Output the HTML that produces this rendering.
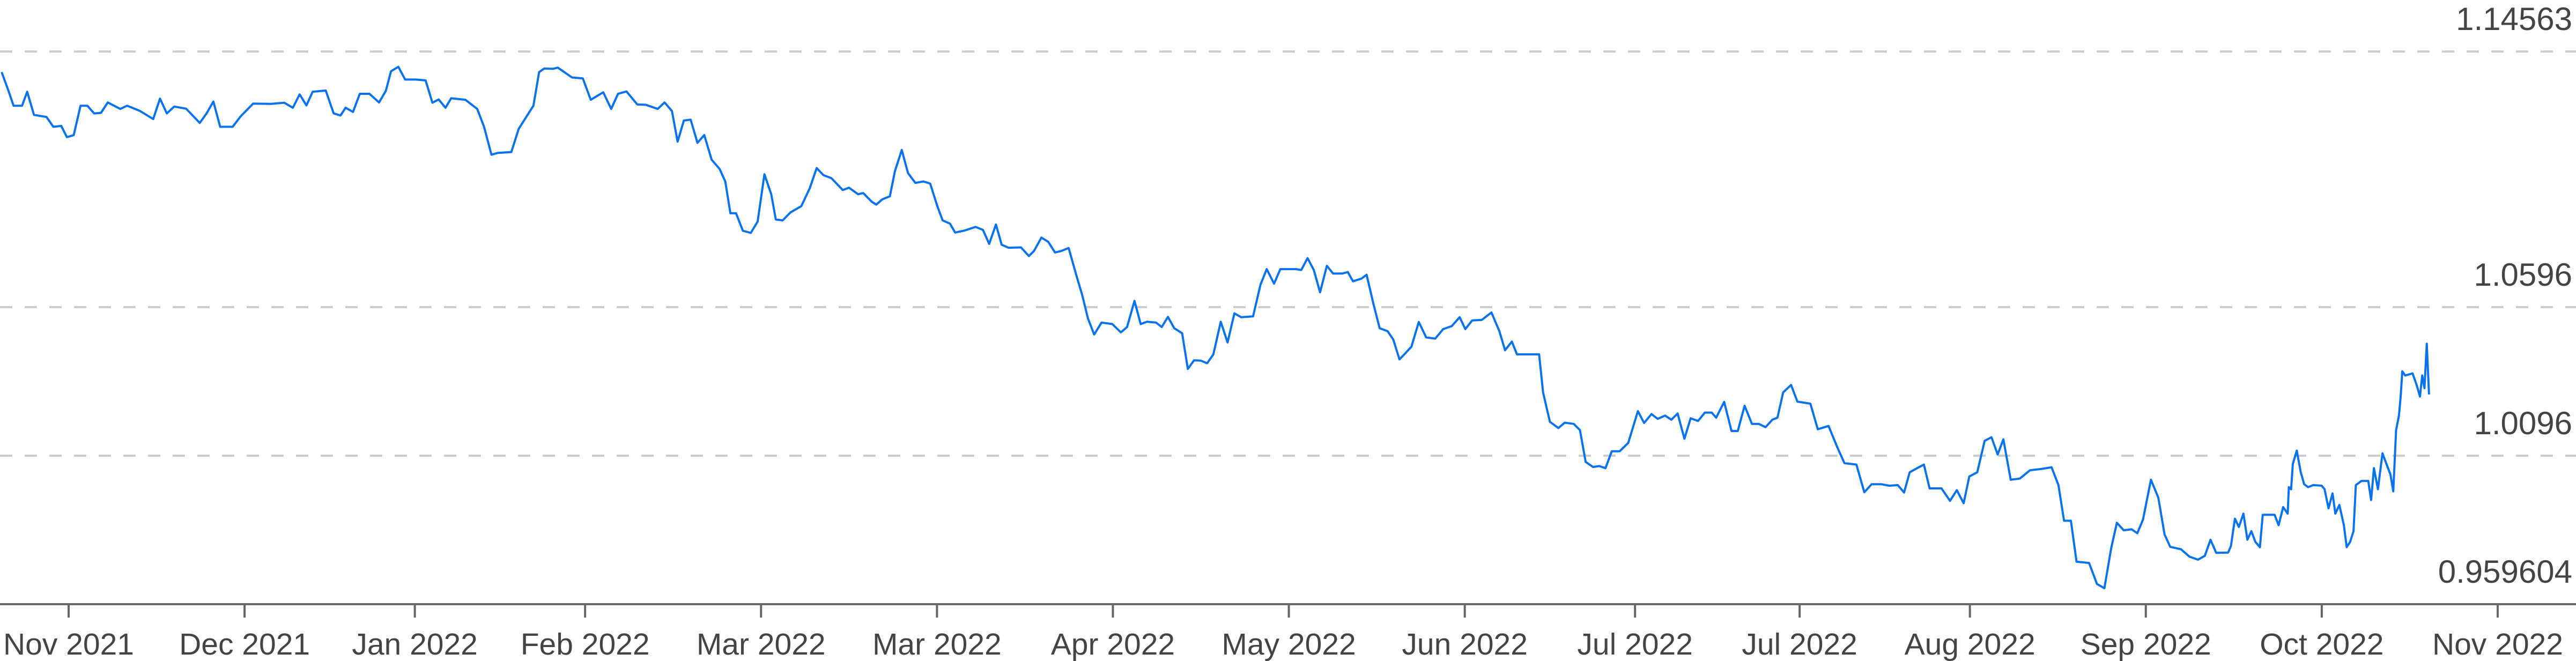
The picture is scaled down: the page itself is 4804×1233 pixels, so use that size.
<!DOCTYPE html>
<html><head><meta charset="utf-8">
<style>
html,body{margin:0;padding:0;background:#fff;}
svg{display:block;}
text{font-family:"Liberation Sans",sans-serif;fill:#444;}
</style></head>
<body>
<svg id="chart" width="4804" height="1233" viewBox="0 0 4804 1233" xmlns="http://www.w3.org/2000/svg">
<g id="grid"></g>
<g id="ylabels"></g>
<g id="xaxis"></g>
<g id="series"></g>
</svg>
<script>
const yTickValues = [1.14563, 1.0596, 1.0096, 0.959604];
const yTickLabels = ["1.14563", "1.0596", "1.0096", "0.959604"];
const xTickDays = [0,31,61,91,122,153,184,215,246,276,305,335,366,397,428];
const xTickLabels = ["Nov 2021","Dec 2021","Jan 2022","Feb 2022","Mar 2022","Mar 2022","Apr 2022","May 2022","Jun 2022","Jul 2022","Jul 2022","Aug 2022","Sep 2022","Oct 2022","Nov 2022"];
const seriesDays = [-11.8,-10.6,-9.7,-8.2,-7.3,-6.1,-3.9,-2.7,-1.3,-0.3,0.9,2.1,3.3,4.5,5.7,6.9,9.1,10.3,12.5,14.9,16.1,17.3,18.6,20.7,23.1,24.3,25.5,26.7,28.9,30.3,32.5,35.6,38.0,39.5,40.7,41.9,43.0,45.3,46.7,47.9,48.8,50.1,51.3,53.0,54.7,55.9,56.8,58.1,59.3,61.2,62.9,64.1,65.2,66.4,67.4,69.9,72.0,73.2,74.5,75.6,78.0,79.3,80.7,81.9,82.9,83.8,85.3,86.2,88.7,90.6,92.0,94.2,95.6,96.8,98.3,100.2,101.7,103.8,105.0,106.3,107.3,108.4,109.6,110.8,112.0,113.3,114.7,115.7,116.6,117.6,118.8,120.2,121.4,122.6,123.8,124.6,125.8,127.2,129.1,130.6,131.8,133.0,134.4,136.4,137.5,139.1,
140.0,141.5,142.3,143.4,144.7,145.6,146.8,147.9,149.2,150.6,151.8,153.1,154.0,155.3,156.2,157.9,159.8,161.1,162.2,163.4,164.4,165.6,167.8,169.2,170.1,171.4,172.6,173.8,174.9,176.2,177.5,178.6,179.6,180.7,182.0,183.9,185.4,186.5,187.8,188.9,190.0,191.6,192.6,193.7,194.8,196.2,197.2,198.3,199.5,200.6,201.7,203.0,204.2,205.4,206.6,208.7,210.0,211.1,212.4,213.5,216.2,217.2,218.3,219.4,220.5,221.7,222.8,224.4,225.4,226.3,227.8,228.7,229.9,231.0,232.4,233.4,234.5,235.5,236.6,237.9,239.2,240.8,242.2,243.7,245.1,246.1,247.3,249.0,250.7,252.1,253.1,254.3,255.2,257.5,259.1,259.8,261.0,262.5,263.6,265.2,266.3,267.3,268.6,269.7,270.8,271.9,273.3,274.8,276.5,277.6,278.9,280.0,281.3,282.4,283.5,284.7,285.8,287.1,288.3,289.5,
290.3,291.7,293.0,294.1,295.3,296.6,297.8,299.0,300.2,301.1,302.1,303.5,304.6,306.9,308.2,310.1,311.6,312.9,315.0,316.4,317.7,319.4,320.8,322.3,323.4,324.4,325.7,326.9,327.9,330.0,331.5,332.7,333.9,334.9,336.3,337.6,338.8,339.9,340.9,342.2,343.8,345.6,347.5,349.4,350.6,351.6,352.8,353.8,356.0,357.4,358.7,359.9,360.9,362.1,363.5,364.5,365.5,366.9,368.2,369.3,370.3,372.2,373.7,375.2,376.4,377.4,378.4,380.5,381.0,381.7,382.4,383.2,383.9,384.6,385.3,386.1,386.6,388.7,389.4,390.2,391.0,391.2,391.6,391.9,392.6,393.3,393.9,394.6,395.5,397.0,397.5,398.2,398.9,399.4,400.1,400.9,401.4,402.0,402.6,403.0,404.0,405.2,405.7,406.2,406.9,407.7,408.4,409.1,409.6,410.1,410.6,410.9,411.2,411.7,413.0,413.7,414.3,414.7,415.1,415.5,415.9];
const seriesValues = [1.1387,1.1324,1.1274,1.1274,1.1321,1.1243,1.1236,1.1203,1.1206,1.1168,1.1175,1.1274,1.1274,1.1248,1.1250,1.1285,1.1263,1.1274,1.1257,1.1229,1.1298,1.1248,1.1271,1.1264,1.1216,1.1248,1.1288,1.1203,1.1203,1.1238,1.1281,1.1280,1.1284,1.1267,1.1312,1.1275,1.1321,1.1325,1.1248,1.1241,1.1267,1.1253,1.1314,1.1314,1.1285,1.1324,1.1390,1.1405,1.1362,1.1362,1.1359,1.1284,1.1295,1.1267,1.1299,1.1294,1.1263,1.1203,1.1109,1.1115,1.1118,1.1196,1.1238,1.1274,1.1387,1.1399,1.1398,1.1402,1.1369,1.1366,1.1294,1.1319,1.1263,1.1314,1.1322,1.1278,1.1277,1.1263,1.1285,1.1256,1.1153,1.1224,1.1227,1.1149,1.1175,1.1092,1.1061,1.1019,1.0912,1.0912,1.0853,1.0846,1.0884,1.1043,1.0976,1.0891,1.0888,1.0915,1.0936,1.0997,1.1064,1.1040,1.1030,1.0990,1.0998,1.0976,
1.0980,1.0951,1.0941,1.0959,1.0969,1.1054,1.1125,1.1047,1.1014,1.1019,1.1012,1.0934,1.0888,1.0877,1.0847,1.0854,1.0866,1.0856,1.0809,1.0874,1.0806,1.0796,1.0797,1.0768,1.0785,1.0830,1.0816,1.0780,1.0785,1.0795,1.0707,1.0636,1.0558,1.0504,1.0544,1.0539,1.0511,1.0529,1.0617,1.0539,1.0547,1.0544,1.0529,1.0563,1.0525,1.0508,1.0388,1.0417,1.0416,1.0407,1.0437,1.0547,1.0477,1.0575,1.0562,1.0565,1.0671,1.0724,1.0675,1.0724,1.0724,1.0721,1.0761,1.0721,1.0646,1.0735,1.0709,1.0709,1.0714,1.0683,1.0692,1.0705,1.0607,1.0525,1.0515,1.0487,1.0420,1.0440,1.0463,1.0546,1.0494,1.0490,1.0522,1.0532,1.0562,1.0522,1.0551,1.0553,1.0578,1.0515,1.0451,1.0480,1.0437,1.0437,1.0437,1.0309,1.0210,1.0189,1.0207,1.0203,1.0182,1.0075,1.0058,1.0061,1.0054,1.0111,1.0111,1.0139,1.0246,1.0206,1.0236,1.0220,1.0231,1.0217,1.0238,1.0153,1.0222,1.0213,1.0241,1.0241,
1.0224,1.0277,1.0179,1.0179,1.0264,1.0203,1.0203,1.0192,1.0217,1.0224,1.0309,1.0334,1.0278,1.0271,1.0185,1.0196,1.0126,1.0071,1.0066,0.9973,1.0000,1.0000,0.9995,0.9997,0.9972,1.0040,1.0054,1.0066,0.9986,0.9986,0.9944,0.9980,0.9936,1.0026,1.0040,1.0146,1.0158,1.0100,1.0151,1.0015,1.0019,1.0047,1.0051,1.0057,0.9997,0.9877,0.9877,0.9739,0.9735,0.9664,0.9650,0.9785,0.9870,0.9845,0.9848,0.9835,0.9881,1.0015,0.9955,0.9831,0.9789,0.9781,0.9756,0.9746,0.9759,0.9813,0.9769,0.9770,0.9792,0.9884,0.9856,0.9901,0.9813,0.9842,0.9806,0.9788,0.9897,0.9897,0.9862,0.9923,0.9901,0.9990,0.9983,1.0068,1.0113,1.0040,1.0000,0.9990,0.9997,0.9995,0.9983,0.9919,0.9969,0.9901,0.9930,0.9862,0.9788,0.9806,0.9842,0.9997,1.0011,1.0011,0.9947,1.0054,0.9983,1.0104,1.0068,1.0033,0.9976,1.0182,1.0231,1.0295,1.0380,1.0366,1.0373,1.0335,1.0295,1.0366,1.0323,1.0473,1.0302];

const NS = "http://www.w3.org/2000/svg";
const X0 = 128, PX_PER_DAY = 10.584;
function xScale(d){ return X0 + d * PX_PER_DAY; }
function yScale(v){ return 850 + (1.0096 - v) * 5542; }

const grid = document.getElementById('grid');
const ylabels = document.getElementById('ylabels');
yTickValues.forEach((v, i) => {
  const y = yScale(v);
  if (i < yTickValues.length - 1) {
    const l = document.createElementNS(NS, 'line');
    l.setAttribute('x1', 0); l.setAttribute('x2', 4804);
    l.setAttribute('y1', y); l.setAttribute('y2', y);
    l.setAttribute('stroke', '#cccccc'); l.setAttribute('stroke-width', 4);
    l.setAttribute('stroke-dasharray', '23 23');
    
    
    grid.appendChild(l);
  }
  const t = document.createElementNS(NS, 'text');
  t.setAttribute('x', 4797); t.setAttribute('y', y - 40);
  t.setAttribute('text-anchor', 'end'); t.setAttribute('font-size', 60);
  t.textContent = yTickLabels[i];
  
  
  ylabels.appendChild(t);
});

const xaxis = document.getElementById('xaxis');
const axisLine = document.createElementNS(NS, 'line');
axisLine.setAttribute('x1', 0); axisLine.setAttribute('x2', 4804);
axisLine.setAttribute('y1', 1127); axisLine.setAttribute('y2', 1127);
axisLine.setAttribute('stroke', '#666'); axisLine.setAttribute('stroke-width', 4);


xaxis.appendChild(axisLine);
xTickDays.forEach((d, i) => {
  const x = xScale(d);
  const tk = document.createElementNS(NS, 'line');
  tk.setAttribute('x1', x); tk.setAttribute('x2', x);
  tk.setAttribute('y1', 1127); tk.setAttribute('y2', 1152);
  tk.setAttribute('stroke', '#666'); tk.setAttribute('stroke-width', 4);
  
  
  xaxis.appendChild(tk);
  const t = document.createElementNS(NS, 'text');
  t.setAttribute('x', x); t.setAttribute('y', 1221);
  t.setAttribute('text-anchor', 'middle'); t.setAttribute('font-size', 57);
  t.textContent = xTickLabels[i];
  
  
  xaxis.appendChild(t);
});

const series = document.getElementById('series');
const path = document.createElementNS(NS, 'path');
let dstr = '';
seriesDays.forEach((d, i) => {
  dstr += (i ? 'L' : 'M') + xScale(d).toFixed(1) + ' ' + yScale(seriesValues[i]).toFixed(1) + ' ';
});
path.setAttribute('d', dstr);
path.setAttribute('fill', 'none');
path.setAttribute('stroke', '#0a72ec');
path.setAttribute('stroke-width', 4);
path.setAttribute('stroke-linejoin', 'round');


series.appendChild(path);
</script>
</body></html>
